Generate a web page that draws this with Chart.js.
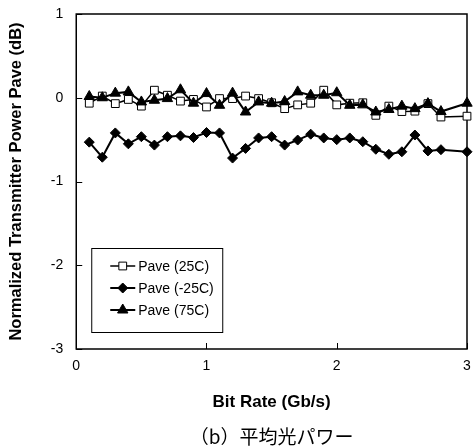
<!DOCTYPE html>
<html>
<head>
<meta charset="utf-8">
<script src="https://cdn.jsdelivr.net/npm/chart.js@4.4.1/dist/chart.umd.min.js"></script>
<style>
  html, body { margin: 0; padding: 0; background: #fff; }
  #wrap { width: 474px; height: 448px; }
</style>
</head>
<body>
<div id="wrap"><canvas id="chart"></canvas></div>
<script>
const bitRate = [0.1, 0.2, 0.3, 0.4, 0.5, 0.6, 0.7, 0.8, 0.9, 1.0, 1.1, 1.2, 1.3, 1.4, 1.5,
  1.6, 1.7, 1.8, 1.9, 2.0, 2.1, 2.2, 2.3, 2.4, 2.5, 2.6, 2.7, 2.8, 3.0];
const pave25 = [-0.065, 0.02, -0.07, -0.02, -0.10, 0.09, 0.03, -0.04, -0.02, -0.11, -0.01, -0.01, 0.02, -0.01, -0.06,
  -0.13, -0.085, -0.065, 0.09, -0.085, -0.065, -0.06, -0.21, -0.10, -0.165, -0.16, -0.07, -0.23, -0.22];
const paveM25 = [-0.53, -0.71, -0.42, -0.55, -0.465, -0.565, -0.465, -0.455, -0.475, -0.415, -0.42, -0.72, -0.605, -0.48, -0.465,
  -0.565, -0.505, -0.435, -0.48, -0.50, -0.48, -0.525, -0.615, -0.675, -0.645, -0.445, -0.635, -0.62, -0.645];
const pave75 = [0.015, 0.0, 0.055, 0.07, -0.05, -0.03, -0.01, 0.095, -0.065, 0.05, -0.09, 0.055, -0.17, -0.05, -0.065,
  -0.045, 0.07, 0.03, 0.03, 0.06, -0.09, -0.085, -0.17, -0.14, -0.10, -0.13, -0.07, -0.165, -0.065];
const seriesNames = ["Pave (25C)", "Pave (-25C)", "Pave (75C)"];
const xTicks = [0, 1, 2, 3];
const yTicks = [1, 0, -1, -2, -3];

const toPoints = (ys) => ys.map((y, i) => ({ x: bitRate[i], y: y }));

// box round the plot, with the short ticks pointing inwards
const framePlugin = {
  id: "frame",
  beforeDatasetsDraw(chart) {
    const { ctx, chartArea: a, scales } = chart;
    ctx.save();
    ctx.strokeStyle = "#000";
    ctx.lineWidth = 1.5;
    ctx.strokeRect(a.left, a.top, a.right - a.left, a.bottom - a.top);
    ctx.lineWidth = 1;
    ctx.beginPath();
    xTicks.forEach((v) => {
      const px = Math.round(scales.x.getPixelForValue(v)) + 0.5;
      ctx.moveTo(px, a.bottom);
      ctx.lineTo(px, a.bottom - 6);
    });
    yTicks.forEach((v) => {
      const py = Math.round(scales.y.getPixelForValue(v)) + 0.5;
      ctx.moveTo(a.left, py);
      ctx.lineTo(a.left + 6, py);
    });
    ctx.stroke();
    ctx.restore();
  },
};

// legend box in the lower left corner of the plot
const boxLegend = {
  id: "boxLegend",
  afterDatasetsDraw(chart) {
    const { ctx, chartArea: a } = chart;
    const left = a.left + 15, top = a.top + 234;
    ctx.save();
    ctx.fillStyle = "#fff";
    ctx.fillRect(left, top, 131, 84);
    ctx.strokeStyle = "#000";
    ctx.lineWidth = 1;
    ctx.strokeRect(left + 0.5, top + 0.5, 131, 84);
    chart.data.datasets.forEach((ds, i) => {
      const y = top + 18 + i * 22;
      ctx.strokeStyle = "#000";
      ctx.lineWidth = ds.borderWidth;
      ctx.beginPath();
      ctx.moveTo(left + 19, y);
      ctx.lineTo(left + 44, y);
      ctx.stroke();
      ctx.fillStyle = ds.pointBackgroundColor;
      ctx.lineWidth = 1;
      Chart.helpers.drawPoint(ctx, {
        pointStyle: ds.pointStyle,
        radius: ds.pointRadius,
        borderWidth: 1,
        rotation: 0,
      }, left + 31.5, y);
      ctx.fillStyle = "#000";
      ctx.font = "14px 'Liberation Sans', Arial, sans-serif";
      ctx.textBaseline = "middle";
      ctx.fillText(ds.label, left + 47, y + 1);
    });
    ctx.restore();
  },
};

const ctx = document.getElementById("chart");
new Chart(ctx, {
  type: "line",
  plugins: [framePlugin, boxLegend],
  data: {
    datasets: [
      {
        label: seriesNames[0],
        data: toPoints(pave25),
        borderColor: "#000",
        borderWidth: 1.5,
        pointStyle: "rect",
        pointRadius: 5.5,
        pointBackgroundColor: "#fff",
        pointBorderColor: "#000",
        pointBorderWidth: 1,
        order: 2,
        clip: false,
      },
      {
        label: seriesNames[1],
        data: toPoints(paveM25),
        borderColor: "#000",
        borderWidth: 2,
        pointStyle: "rectRot",
        pointRadius: 5,
        pointBackgroundColor: "#000",
        pointBorderColor: "#000",
        pointBorderWidth: 1,
        order: 1,
        clip: false,
      },
      {
        label: seriesNames[2],
        data: toPoints(pave75),
        borderColor: "#000",
        borderWidth: 2,
        pointStyle: "triangle",
        pointRadius: 6,
        pointBackgroundColor: "#000",
        pointBorderColor: "#000",
        pointBorderWidth: 1,
        order: 0,
        clip: false,
      },
    ],
  },
  options: {
    responsive: true,
    maintainAspectRatio: false,
    animation: false,
    layout: { padding: { top: 14, right: 3, left: 7, bottom: 0 } },
    plugins: {
      legend: { display: false },
      tooltip: { enabled: false },
      title: {
        display: true,
        position: "bottom",
        fullSize: false,
        text: "（b）平均光パワー",
        color: "#000",
        font: { family: "'Noto Sans CJK JP', sans-serif", size: 19, weight: "normal" },
        padding: { top: 13, bottom: 0 },
      },
    },
    scales: {
      x: {
        type: "linear",
        min: 0,
        max: 3,
        grid: { display: false, drawTicks: false, tickLength: 0 },
        border: { display: false },
        afterBuildTicks: (scale) => { scale.ticks = xTicks.map((v) => ({ value: v })); },
        afterFit: (scale) => { scale.paddingLeft = 0; scale.paddingRight = 0; },
        ticks: {
          color: "#000",
          padding: 9,
          maxRotation: 0,
          font: { family: "'Liberation Sans', Arial, sans-serif", size: 14 },
        },
        title: {
          display: true,
          text: "Bit Rate (Gb/s)",
          color: "#000",
          font: { family: "'Liberation Sans', Arial, sans-serif", size: 17, weight: "bold" },
          padding: { top: 8, bottom: 0 },
        },
      },
      y: {
        type: "linear",
        min: -3,
        max: 1,
        grid: { display: false, drawTicks: false, tickLength: 0 },
        border: { display: false },
        afterBuildTicks: (scale) => { scale.ticks = yTicks.map((v) => ({ value: v })); },
        afterFit: (scale) => { scale.paddingTop = 0; scale.paddingBottom = 0; },
        ticks: {
          color: "#000",
          padding: 13,
          font: { family: "'Liberation Sans', Arial, sans-serif", size: 14 },
        },
        title: {
          display: true,
          text: "Normalized Transmitter Power Pave (dB)",
          color: "#000",
          font: { family: "'Liberation Sans', Arial, sans-serif", size: 16.5, weight: "bold" },
          padding: { top: 0, bottom: 11 },
        },
      },
    },
  },
});
</script>
</body>
</html>
